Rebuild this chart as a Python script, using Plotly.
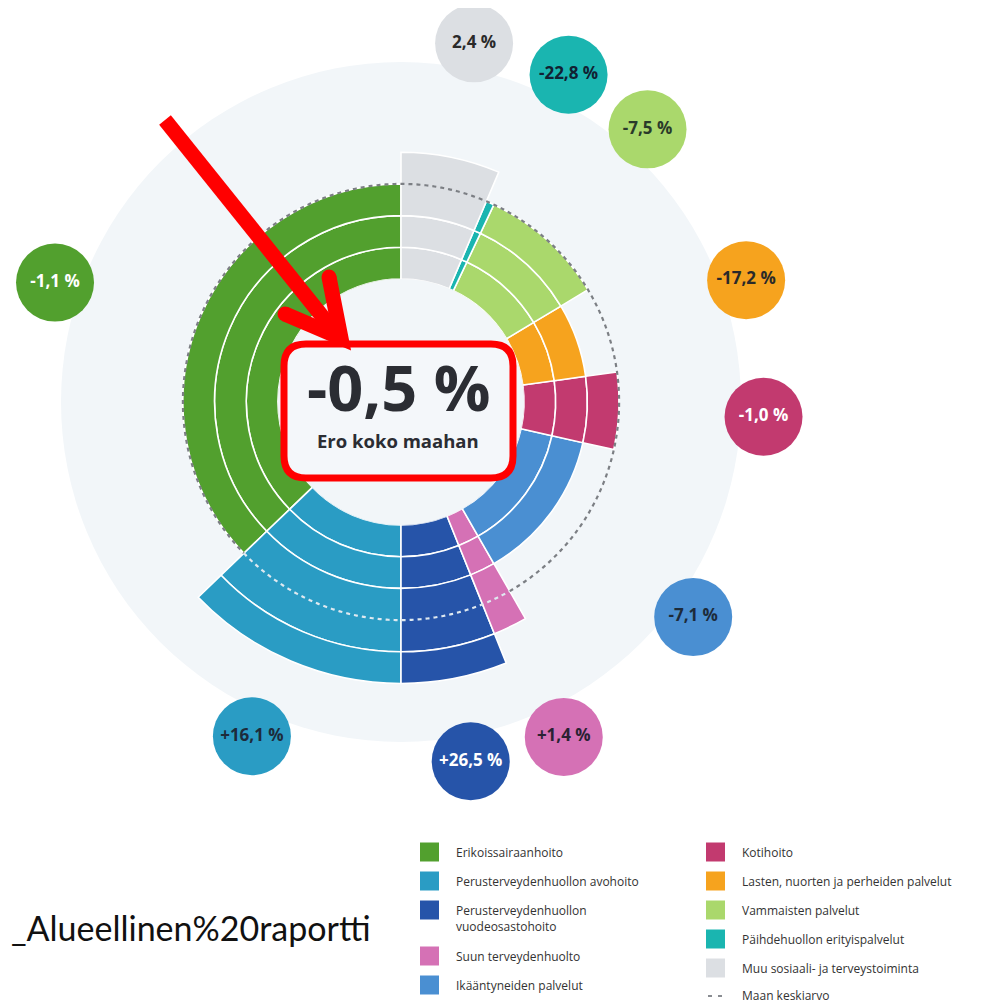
import numpy as np
import plotly.graph_objects as go

# ---------------- data ----------------
categories = [
    "Erikoissairaanhoito",
    "Perusterveydenhuollon avohoito",
    "Perusterveydenhuollon vuodeosastohoito",
    "Suun terveydenhuolto",
    "Ikääntyneiden palvelut",
    "Kotihoito",
    "Lasten, nuorten ja perheiden palvelut",
    "Vammaisten palvelut",
    "Päihdehuollon erityispalvelut",
    "Muu sosiaali- ja terveystoiminta",
]
legend_labels = [
    "Erikoissairaanhoito",
    "Perusterveydenhuollon avohoito",
    "Perusterveydenhuollon<br>vuodeosastohoito",
    "Suun terveydenhuolto",
    "Ikääntyneiden palvelut",
    "Kotihoito",
    "Lasten, nuorten ja perheiden palvelut",
    "Vammaisten palvelut",
    "Päihdehuollon erityispalvelut",
    "Muu sosiaali- ja terveystoiminta",
]
# share of total cost (%), drives the angular width of each sector
shares = [37.2, 12.8, 6.1, 2.2, 13.2, 5.7, 6.4, 9.4, 0.6, 6.4]
# radial level of each sector (rings); national average = 3
levels = [3, 5, 5, 4, 2, 3, 2, 3, 3, 4]
national_average_level = 3
diff_labels = ["-1,1 %", "+16,1 %", "+26,5 %", "+1,4 %", "-7,1 %",
               "-1,0 %", "-17,2 %", "-7,5 %", "-22,8 %", "2,4 %"]
total_diff = "-0,5 %"
total_caption = "Ero koko maahan"
average_label = "Maan keskiarvo"
source_text = "_Alueellinen%20raportti"

# ---------------- styles ----------------
colors = ["#52a02e", "#2a9cc4", "#2654a9", "#d571b5", "#4a8fd2",
          "#c23a6f", "#f6a31e", "#aad86c", "#1ab5b0", "#dcdfe3"]
label_text_colors = ["white", "#1d2b3a", "white", "#2a2233", "#1d2b3a",
                     "white", "#2a2a2a", "#2a3a2a", "#123", "#2a2a2a"]
# sectors whose part above the average gets a light dashed line
light_dash = [False, True, True, True, False, False, False, False, False, False]
label_offsets = [4, -1, 0, 0, 0, 0, 0, 0, -3, 0]
label_r_adjust = [0, 0, 0, 0.2, -0.1, -0.1, 0, 0.05, 0.05, 0]

OFF = 8                    # page body margin
W, H = 990 - OFF, 1005 - OFF
CX, CY = 401, 402          # chart centre in page px
R_POLAR = 392              # polar radius in px
R_HOLE = 123               # inner hole radius in px
RING = 31.7                # px per level
RMAX = (R_POLAR - R_HOLE) / RING
LABEL_LEVEL = (366 - R_HOLE) / RING


def px(x):
    return (x - OFF) / W


def py(y):
    return 1 - (y - OFF) / H


widths = [s * 3.6 for s in shares]
starts = np.concatenate([[0], np.cumsum(widths)[:-1]])
centers = starts + np.array(widths) / 2

fig = go.Figure()

for i, cat in enumerate(categories):
    L = levels[i]
    cuts = [k for k in range(L + 1) if not (k == national_average_level and L > national_average_level)]
    bases = cuts[:-1]
    lens = list(np.diff(cuts))
    fig.add_trace(go.Barpolar(
        r=lens, base=bases, theta=[centers[i]] * len(lens), width=[widths[i]] * len(lens),
        marker=dict(color=colors[i], line=dict(color="white", width=1.6)),
        name=cat, showlegend=False, hoverinfo="skip",
    ))

# national average dashed circle (light over dark bars above the average)
light_idx = [i for i in range(len(categories)) if light_dash[i]]
l_start = starts[light_idx[0]]
l_end = starts[light_idx[-1]] + widths[light_idx[-1]]
th_light = np.linspace(l_start, l_end, 200)
th_dark = np.linspace(l_end, l_start + 360, 600)
fig.add_trace(go.Scatterpolar(
    r=[national_average_level] * len(th_dark), theta=th_dark, mode="lines",
    line=dict(color="#7c7f84", width=2.2, dash="4px,4px"), hoverinfo="skip", showlegend=False))
fig.add_trace(go.Scatterpolar(
    r=[national_average_level] * len(th_light), theta=th_light, mode="lines",
    line=dict(color="#dfe9f0", width=2.2, dash="4px,4px"), hoverinfo="skip", showlegend=False))

# difference label bubbles
fig.add_trace(go.Scatterpolar(
    r=LABEL_LEVEL + np.array(label_r_adjust),
    theta=centers + np.array(label_offsets),
    mode="markers+text",
    marker=dict(size=78, color=colors, line=dict(width=0)),
    text=["<b>%s</b>" % t for t in diff_labels],
    textposition="middle center",
    textfont=dict(family="Open Sans", size=17, color=label_text_colors),
    cliponaxis=False, hoverinfo="skip", showlegend=False,
))

shapes = []
# light background disc
rb = 340
shapes.append(dict(type="circle", xref="paper", yref="paper", layer="below",
                   x0=px(CX - rb), x1=px(CX + rb), y0=py(CY + rb), y1=py(CY - rb),
                   fillcolor="#f2f6f9", line=dict(width=0)))

# red rounded box
bx0, bx1, by0, by1, rr = 284, 513, 344, 478, 22


def P(x, y):
    return "%.5f,%.5f" % (px(x), py(y))


box_path = ("M " + P(bx0 + rr, by0) + " L " + P(bx1 - rr, by0) +
            " Q " + P(bx1, by0) + " " + P(bx1, by0 + rr) +
            " L " + P(bx1, by1 - rr) + " Q " + P(bx1, by1) + " " + P(bx1 - rr, by1) +
            " L " + P(bx0 + rr, by1) + " Q " + P(bx0, by1) + " " + P(bx0, by1 - rr) +
            " L " + P(bx0, by0 + rr) + " Q " + P(bx0, by0) + " " + P(bx0 + rr, by0) + " Z")
shapes.append(dict(type="path", xref="paper", yref="paper", layer="above", path=box_path,
                   fillcolor="#f4f7fa", line=dict(color="#ff0000", width=7)))

# red arrow
shapes.append(dict(type="path", xref="paper", yref="paper", layer="above",
                   path="M " + P(165, 120) + " L " + P(338, 336),
                   line=dict(color="#ff0000", width=15)))
shapes.append(dict(type="path", xref="paper", yref="paper", layer="above",
                   path="M " + P(329, 277) + " L " + P(341, 338) + " L " + P(285, 314),
                   line=dict(color="#ff0000", width=15)))
for (ex, ey) in [(329, 277), (285, 314)]:
    shapes.append(dict(type="circle", xref="paper", yref="paper", layer="above",
                       x0=px(ex - 7.5), x1=px(ex + 7.5), y0=py(ey + 7.5), y1=py(ey - 7.5),
                       fillcolor="#ff0000", line=dict(width=0)))

annotations = [
    dict(text="<b>%s</b>" % total_diff, x=px(398), y=py(387), xref="paper", yref="paper",
         showarrow=False, font=dict(family="Open Sans", size=63, color="#2b2d33")),
    dict(text="<b>%s</b>" % total_caption, x=px(398), y=py(440), xref="paper", yref="paper",
         showarrow=False, font=dict(family="Open Sans", size=18.5, color="#2b2d33")),
    dict(text=source_text, x=px(373), y=py(950), xref="paper", yref="paper",
         xanchor="right", showarrow=False, font=dict(family="Lato", size=34, color="#111111")),
]

# legend (two columns)
left_rows = [852, 881, 910, 956, 985]
right_rows = [852, 881, 910, 939, 968, 996]
sw = 19
for k in range(5):
    y = left_rows[k]
    shapes.append(dict(type="rect", xref="paper", yref="paper", layer="above",
                       x0=px(420), x1=px(420 + sw), y0=py(y + sw / 2), y1=py(y - sw / 2),
                       fillcolor=colors[k], line=dict(width=0)))
    annotations.append(dict(text=legend_labels[k], x=px(455), y=py(y - 9), xref="paper", yref="paper",
                            xanchor="left", yanchor="top", align="left", showarrow=False, borderpad=0,
                            font=dict(family="Open Sans", size=12, color="#333333")))
for k in range(5):
    y = right_rows[k]
    shapes.append(dict(type="rect", xref="paper", yref="paper", layer="above",
                       x0=px(706), x1=px(706 + sw), y0=py(y + sw / 2), y1=py(y - sw / 2),
                       fillcolor=colors[5 + k], line=dict(width=0)))
    annotations.append(dict(text=legend_labels[5 + k], x=px(741), y=py(y - 9), xref="paper", yref="paper",
                            xanchor="left", yanchor="top", align="left", showarrow=False, borderpad=0,
                            font=dict(family="Open Sans", size=12, color="#333333")))
y = right_rows[5]
shapes.append(dict(type="line", xref="paper", yref="paper", layer="above",
                   x0=px(708), x1=px(723), y0=py(y), y1=py(y),
                   line=dict(color="#8a8d92", width=2, dash="4px,6px")))
annotations.append(dict(text=average_label, x=px(741), y=py(y - 1), xref="paper", yref="paper",
                        xanchor="left", yanchor="middle", align="left", showarrow=False, borderpad=0,
                        font=dict(family="Open Sans", size=12, color="#333333")))

fig.update_layout(
    width=W, height=H, margin=dict(l=0, r=0, t=0, b=0),
    paper_bgcolor="white", plot_bgcolor="rgba(0,0,0,0)",
    showlegend=False, hovermode=False,
    polar=dict(
        domain=dict(x=[px(CX - R_POLAR), px(CX + R_POLAR)], y=[py(CY + R_POLAR), py(CY - R_POLAR)]),
        hole=R_HOLE / R_POLAR, bgcolor="rgba(0,0,0,0)", barmode="overlay",
        radialaxis=dict(range=[0, RMAX], visible=False, showgrid=False),
        angularaxis=dict(visible=False, rotation=90, direction="counterclockwise", showgrid=False),
    ),
    shapes=shapes, annotations=annotations,
)

fig.write_html("out.html")
